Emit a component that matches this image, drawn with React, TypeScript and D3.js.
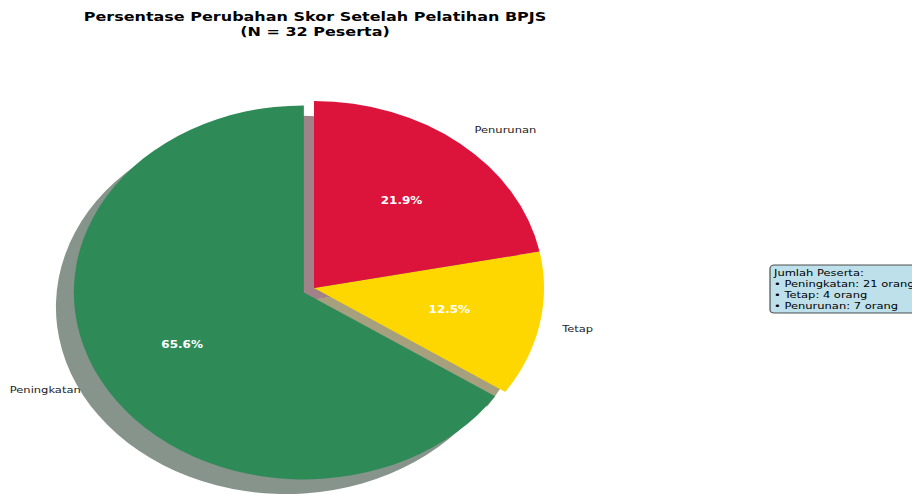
import React from "react";
import * as d3 from "d3";

// chart data
const categories = ["Peningkatan", "Tetap", "Penurunan"];
const counts = [21, 4, 7];
const explode = [0.05, 0, 0];
const colors = ["#2E8B57", "#FFD700", "#DC143C"];
const titleLines = ["Persentase Perubahan Skor Setelah Pelatihan BPJS", "(N = 32 Peserta)"];
const infoLines = [
  "Jumlah Peserta:",
  "\u2022 Peningkatan: 21 orang",
  "\u2022 Tetap: 4 orang",
  "\u2022 Penurunan: 7 orang",
];

const W = 912, H = 494;
const SY = 0.813; // the picture is squeezed vertically
const FONT = "DejaVu Sans, Verdana, sans-serif";

const App = () => {
  const cx = 314, cy = 288 / SY, R = 230;
  const total = d3.sum(counts);
  const pie = d3.pie<number>().sort(null).startAngle(0).endAngle(-2 * Math.PI);
  const arcs = pie(counts);
  const arc = d3.arc<d3.PieArcDatum<number>>().innerRadius(0).outerRadius(R);
  const fmt = d3.format(".1f");
  const shadowOff = 0.078 * R;

  const mid = (a) => (a.startAngle + a.endAngle) / 2;
  const pt = (ang, r) => [r * Math.sin(ang), -r * Math.cos(ang)];

  const shade = (c) => {
    const rgb = d3.rgb(c);
    return d3.rgb(rgb.r * 0.3, rgb.g * 0.3, rgb.b * 0.3).formatHex();
  };

  return (
    <div style={{ position: "absolute", left: 0, top: 0 }}>
      <svg width={W} height={H} style={{ display: "block", background: "#fff" }}>
        <g transform={`scale(1, ${SY})`}>
          {/* title */}
          {titleLines.map((t, i) => (
            <text key={t} x={315} y={25.5 + i * 18.5} textAnchor="middle"
              fontFamily={FONT} fontWeight="bold" fontSize={16} fill="#000">{t}</text>
          ))}

          <g transform={`translate(${cx},${cy})`}>
            {/* shadows first */}
            {arcs.map((a, i) => {
              const [ox, oy] = pt(mid(a), explode[i] * R);
              return (
                <path key={"s" + i} d={arc(a)}
                  transform={`translate(${ox - shadowOff},${oy + shadowOff})`}
                  fill={shade(colors[i])} fillOpacity={0.5} />
              );
            })}
            {arcs.map((a, i) => {
              const [ox, oy] = pt(mid(a), explode[i] * R);
              return (
                <path key={"w" + i} d={arc(a)} transform={`translate(${ox},${oy})`}
                  fill={colors[i]} />
              );
            })}
            {arcs.map((a, i) => {
              const m = mid(a);
              const [ox, oy] = pt(m, explode[i] * R);
              const [lx, ly] = pt(m, 1.1 * R);
              const [px, py] = pt(m, 0.6 * R);
              return (
                <g key={"t" + i}>
                  <text x={ox + lx} y={oy + ly} textAnchor={lx > 0 ? "start" : "end"}
                    dominantBaseline="central" fontFamily={FONT} fontSize={11.5} fill="#222">
                    {categories[i]}
                  </text>
                  <text x={ox + px} y={oy + py} textAnchor="middle" dominantBaseline="central"
                    fontFamily={FONT} fontSize={12} fontWeight="bold" fill="#fff">
                    {fmt((counts[i] / total) * 100) + "%"}
                  </text>
                </g>
              );
            })}
          </g>

          {/* info box */}
          <rect x={770} y={326} width={200} height={59} rx={4} ry={4}
            fill="#ADD8E6" fillOpacity={0.8} stroke="#333" strokeOpacity={0.85} strokeWidth={1.2} />
          {infoLines.map((t, i) => (
            <text key={t} x={774} y={355.5 + (i - 1.5) * 13.6} dominantBaseline="central"
              fontFamily={FONT} fontSize={11.5} fill="#000">{t}</text>
          ))}
        </g>
      </svg>
    </div>
  );
};

export default App;
